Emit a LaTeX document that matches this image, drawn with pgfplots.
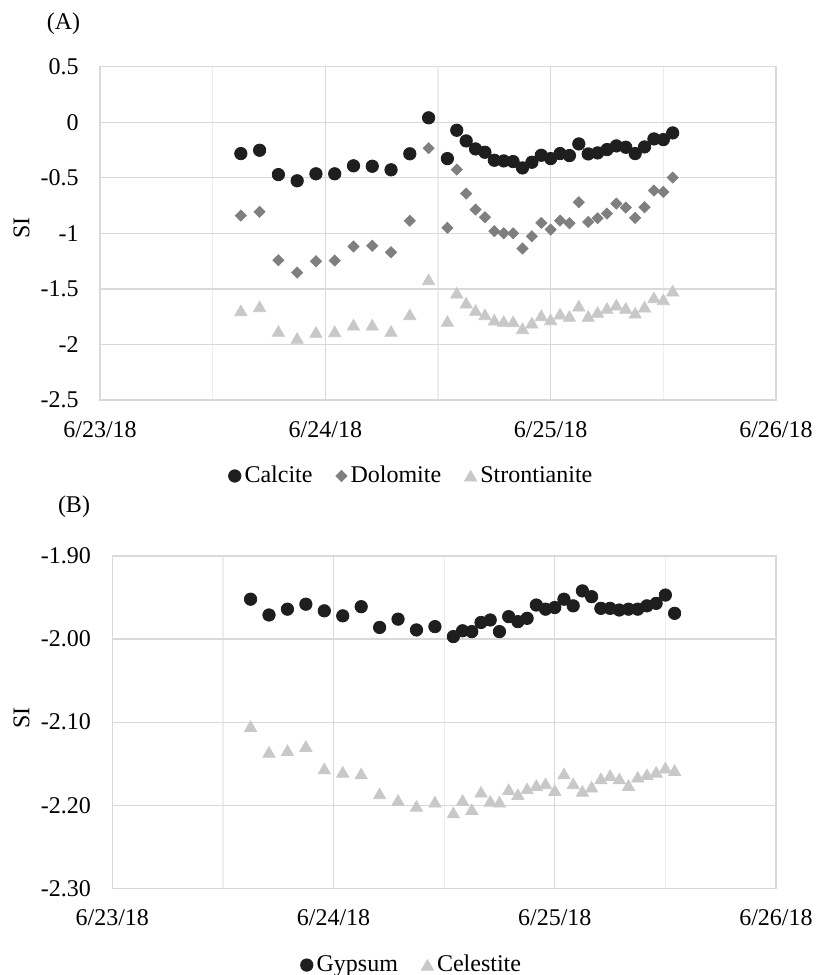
\documentclass[border=0pt]{standalone}
\usepackage{fontspec}
\setmainfont{Liberation Serif}
\usepackage{pgfplots}
\usepackage{pgfplotstable}
\pgfplotsset{compat=1.18}

\definecolor{gridc}{HTML}{D9D9D9}
\definecolor{minorc}{HTML}{EDEDED}
\definecolor{cblack}{HTML}{1E1E1E}
\definecolor{cmid}{HTML}{7F7F7F}
\definecolor{clight}{HTML}{C8C8C8}

% hours counted from 6/23/18 0:00
\pgfplotstableread{
h   ca     dol    str
15 -0.282 -0.840 -1.695
17 -0.252 -0.806 -1.659
19 -0.471 -1.242 -1.881
21 -0.527 -1.353 -1.944
23 -0.464 -1.251 -1.890
25 -0.464 -1.245 -1.884
27 -0.392 -1.119 -1.824
29 -0.396 -1.112 -1.824
31 -0.428 -1.170 -1.881
33 -0.284 -0.887 -1.731
35  0.040 -0.234 -1.416
37 -0.327 -0.950 -1.791
38 -0.072 -0.426 -1.536
39 -0.168 -0.642 -1.626
40 -0.240 -0.786 -1.692
41 -0.270 -0.855 -1.731
42 -0.342 -0.981 -1.779
43 -0.348 -0.999 -1.791
44 -0.354 -0.999 -1.794
45 -0.411 -1.137 -1.857
46 -0.360 -1.026 -1.806
47 -0.297 -0.906 -1.740
48 -0.327 -0.966 -1.776
49 -0.282 -0.885 -1.725
50 -0.300 -0.909 -1.746
51 -0.195 -0.720 -1.653
52 -0.285 -0.897 -1.746
53 -0.276 -0.864 -1.710
54 -0.246 -0.822 -1.674
55 -0.213 -0.732 -1.644
56 -0.225 -0.768 -1.674
57 -0.282 -0.861 -1.716
58 -0.222 -0.765 -1.662
59 -0.150 -0.615 -1.578
60 -0.156 -0.627 -1.596
61 -0.096 -0.498 -1.518
}\tabA

\pgfplotstableread{
h   gyp    cel
15 -1.952 -2.105
17 -1.971 -2.136
19 -1.964 -2.134
21 -1.958 -2.129
23 -1.966 -2.156
25 -1.972 -2.160
27 -1.961 -2.162
29 -1.986 -2.186
31 -1.976 -2.194
33 -1.989 -2.201
35 -1.985 -2.196
37 -1.997 -2.209
38 -1.990 -2.194
39 -1.991 -2.205
40 -1.980 -2.184
41 -1.977 -2.195
42 -1.991 -2.196
43 -1.973 -2.181
44 -1.979 -2.187
45 -1.975 -2.180
46 -1.959 -2.176
47 -1.964 -2.174
48 -1.962 -2.182
49 -1.952 -2.162
50 -1.960 -2.174
51 -1.942 -2.183
52 -1.949 -2.178
53 -1.963 -2.168
54 -1.963 -2.164
55 -1.965 -2.168
56 -1.964 -2.176
57 -1.964 -2.166
58 -1.960 -2.163
59 -1.957 -2.160
60 -1.947 -2.155
61 -1.969 -2.158
}\tabB

\pgfplotsset{
  every axis/.append style={font=\fontsize{12}{14}\selectfont},
  excel/.style={
    scale only axis,
    anchor=north west,
    xmin=0, xmax=72,
    xtick={0,24,48,72},
    xticklabels={6/23/18,6/24/18,6/25/18,6/26/18},
    minor xtick={12,36,60},
    xmajorgrids, xminorgrids, ymajorgrids,
    major grid style={gridc, line width=0.6pt},
    minor grid style={minorc, line width=0.6pt},
    axis line style={gridc, line width=0.6pt},
    major tick length=0pt, minor tick length=0pt,
    xticklabel style={anchor=base, inner sep=0pt, yshift=-18.5pt},
    yticklabel style={anchor=east, inner sep=0pt, xshift=-10.5pt},
    legend style={draw=none, fill=none, anchor=center, legend columns=-1,
      nodes={inner sep=1.2pt},
      /tikz/every odd column/.append style={column sep=0.6pt},
      /tikz/every even column/.append style={column sep=10.5pt}},
  },
  mk/.style={only marks, legend image code/.code={\draw[##1] plot coordinates {(0pt,0pt)};}},
  tri/.style={mark=triangle*, mark size=3.5pt, mark options={yshift=-0.8pt}},
}

\begin{document}
\begin{tikzpicture}[font=\fontsize{12}{14}\selectfont]
\useasboundingbox (0pt,0pt) rectangle (407.5pt,-487.5pt);

\begin{axis}[excel,
  at={(50pt,-33.35pt)}, width=338pt, height=166.65pt,
  ymin=-2.5, ymax=0.5,
  ytick={-2.5,-2,-1.5,-1,-0.5,0,0.5},
  yticklabels={-2.5,-2,-1.5,-1,-0.5,0,0.5},
  legend style={at={(0.461,-0.228)}},
]
\addplot[mk, cblack, mark=*, mark size=3.1pt] table[x=h, y=ca] {\tabA};
\addplot[mk, cmid, mark=square*, mark size=1.95pt, mark options={rotate=45}] table[x=h, y=dol] {\tabA};
\addplot[mk, clight, tri] table[x=h, y=str] {\tabA};
\legend{Calcite, Dolomite, Strontianite}
\end{axis}

\begin{axis}[excel,
  at={(56.15pt,-278pt)}, width=331.85pt, height=166.15pt,
  ymin=-2.3, ymax=-1.9,
  ytick={-2.3,-2.2,-2.1,-2.0,-1.9},
  yticklabels={-2.30,-2.20,-2.10,-2.00,-1.90},
  legend style={at={(0.4516,-0.231)}},
]
\addplot[mk, cblack, mark=*, mark size=3.1pt] table[x=h, y=gyp] {\tabB};
\addplot[mk, clight, tri] table[x=h, y=cel] {\tabB};
\legend{Gypsum, Celestite}
\end{axis}

\node at (31.75pt,-12pt) {(A)};
\node at (37pt,-253.5pt) {(B)};
\node[rotate=90] at (10.75pt,-114pt) {SI};
\node[rotate=90] at (10.75pt,-359pt) {SI};
\end{tikzpicture}
\end{document}
